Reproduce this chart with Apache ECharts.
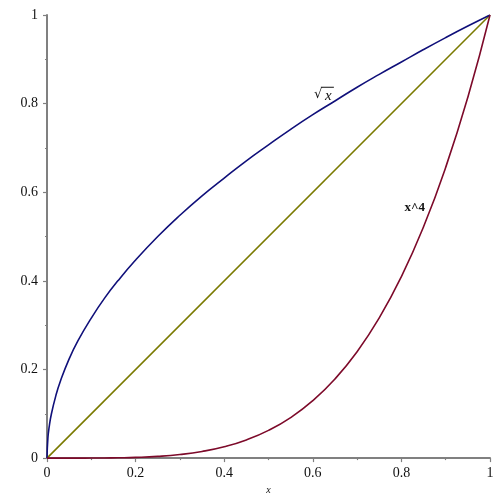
<!DOCTYPE html>
<html><head><meta charset="utf-8">
<script src="https://cdn.jsdelivr.net/npm/echarts@6/dist/echarts.min.js"></script>
<style>html,body{margin:0;padding:0;background:#fff}#c{width:500px;height:500px}</style>
</head><body><div id="c"></div>
<script>
var xs = [0, 0.002, 0.005, 0.01, 0.02, 0.03, 0.05, 0.07, 0.1, 0.13, 0.16, 0.2, 0.25, 0.3, 0.35, 0.4, 0.45, 0.5, 0.55, 0.6, 0.65, 0.7, 0.75, 0.8, 0.85, 0.9, 0.95, 1];
var sqrtVals = [0, 0.045, 0.071, 0.1, 0.141, 0.173, 0.224, 0.265, 0.316, 0.361, 0.4, 0.447, 0.5, 0.548, 0.592, 0.632, 0.671, 0.707, 0.742, 0.775, 0.806, 0.837, 0.866, 0.894, 0.922, 0.949, 0.975, 1];
var quartVals = [0, 0, 0, 0, 0, 0, 0, 0, 0.0001, 0.0003, 0.0007, 0.0016, 0.0039, 0.0081, 0.015, 0.0256, 0.041, 0.0625, 0.0915, 0.1296, 0.1785, 0.2401, 0.3164, 0.4096, 0.522, 0.6561, 0.8145, 1];
var lineXs = [0, 1];
var lineVals = [0, 1];
var tickLabels = ['0', '0.2', '0.4', '0.6', '0.8', '1'];
var xName = 'x';

function pairs(a, b) { return a.map(function (v, i) { return [v, b[i]]; }); }

var chart = echarts.init(document.getElementById('c'), null, { renderer: 'canvas' });
var font = 'Liberation Serif';
function axisCommon() {
  return {
    min: 0, max: 1, interval: 0.2,
    axisLine: { show: true, onZero: false, lineStyle: { color: '#808080', width: 2 } },
    axisTick: { show: true, length: 4, lineStyle: { color: '#808080', width: 1.2 } },
    minorTick: { show: true, splitNumber: 2, length: 2, lineStyle: { color: '#808080', width: 1.2 } },
    splitLine: { show: false },
    axisLabel: {
      fontFamily: font, fontSize: 14, color: '#111',
      formatter: function (v) { var i = Math.round(v / 0.2); return tickLabels[i]; }
    }
  };
}
var xa = axisCommon();
xa.type = 'value';
xa.name = xName; xa.nameLocation = 'middle'; xa.nameGap = 26;
xa.nameTextStyle = { fontFamily: font, fontStyle: 'italic', fontSize: 10, color: '#111' };
xa.axisLabel.margin = 8;
var ya = axisCommon();
ya.type = 'value';
ya.axisLabel.margin = 9;

chart.setOption({
  animation: false,
  grid: { left: 47, right: 10, top: 15, bottom: 38, containLabel: false },
  xAxis: xa,
  yAxis: ya,
  series: [
    { type: 'line', data: pairs(xs, sqrtVals), smooth: true, showSymbol: false, lineStyle: { color: '#10107a', width: 1.6 }, z: 3 },
    { type: 'line', data: pairs(lineXs, lineVals), showSymbol: false, lineStyle: { color: '#7a7a00', width: 1.6 }, z: 2 },
    { type: 'line', data: pairs(xs, quartVals), smooth: true, showSymbol: false, lineStyle: { color: '#7d0a2a', width: 1.6 }, z: 4 }
  ]
});

var p1 = chart.convertToPixel({ gridIndex: 0 }, [0.625, 0.82]);
var p2 = chart.convertToPixel({ gridIndex: 0 }, [0.83, 0.565]);
chart.setOption({
  graphic: [
    { type: 'text', x: p1[0] - 10, y: p1[1], style: { text: '\u221A', font: '13px "DejaVu Serif"', fill: '#111', textVerticalAlign: 'middle' } },
    { type: 'text', x: p1[0] + 1, y: p1[1] + 1, style: { text: 'x', font: 'italic 15px "Liberation Serif"', fill: '#111', textVerticalAlign: 'middle' } },
    { type: 'line', shape: { x1: p1[0] - 3, y1: p1[1] - 7.5, x2: p1[0] + 10, y2: p1[1] - 7.5 }, style: { stroke: '#111', lineWidth: 1 } },
    { type: 'text', x: p2[0], y: p2[1], style: { text: 'x^4', font: 'bold 13px "Liberation Serif"', fill: '#111', textAlign: 'center', textVerticalAlign: 'middle' } }
  ]
});
</script></body></html>
